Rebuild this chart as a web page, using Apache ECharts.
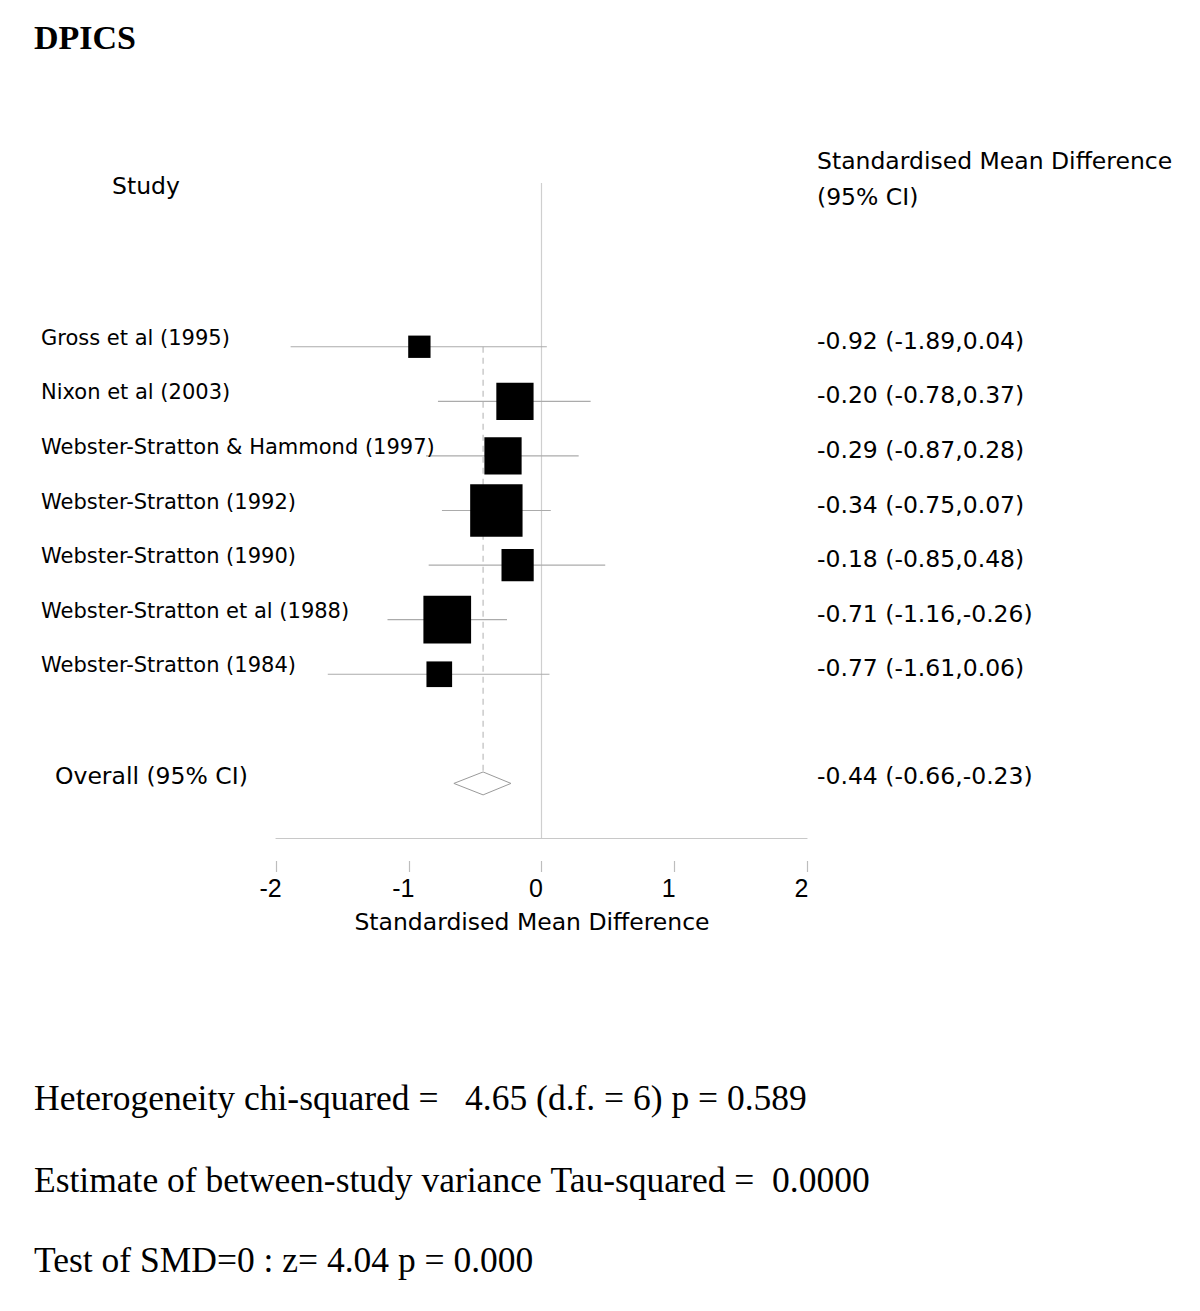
<!DOCTYPE html>
<html>
<head>
<meta charset="utf-8">
<script src="https://cdn.jsdelivr.net/npm/echarts@6/dist/echarts.min.js"></script>
<style>
  html, body { margin: 0; padding: 0; background: #fff; }
  #chart { width: 1200px; height: 1311px; }
</style>
</head>
<body>
<div id="chart"></div>
<script>
// ---- Data ----
const studies = [
  'Gross et al (1995)',
  'Nixon et al (2003)',
  'Webster-Stratton & Hammond (1997)',
  'Webster-Stratton (1992)',
  'Webster-Stratton (1990)',
  'Webster-Stratton et al (1988)',
  'Webster-Stratton (1984)'
];
const smd   = [-0.92, -0.20, -0.29, -0.34, -0.18, -0.71, -0.77];
const lower = [-1.89, -0.78, -0.87, -0.75, -0.85, -1.16, -1.61];
const upper = [ 0.04,  0.37,  0.28,  0.07,  0.48, -0.26,  0.06];
const weights = [5.0, 13.9, 13.9, 27.5, 10.4, 22.8, 6.6]; // % weight (box area)
const overallLabel = 'Overall (95% CI)';
const overallValues = [-0.44, -0.66, -0.23]; // estimate, lower, upper
const xTicks = [-2, -1, 0, 1, 2];
const titleText = 'DPICS';
const statsLines = [
  'Heterogeneity chi-squared =   4.65 (d.f. = 6) p = 0.589',
  'Estimate of between-study variance Tau-squared =  0.0000',
  'Test of SMD=0 : z= 4.04 p = 0.000'
];

// ---- Build ----
const SANS = '"DejaVu Sans", "Liberation Sans", Arial, sans-serif';
const TICKSANS = '"Liberation Sans", Arial, Helvetica, sans-serif';
const SERIF = '"Liberation Serif", "Times New Roman", serif';
const fmt = (e, l, u) => e.toFixed(2) + ' (' + l.toFixed(2) + ',' + u.toFixed(2) + ')';
const nbsp = s => s.replace(/ /g, '\u00a0');

const studyData = studies.map((s, i) => [i + 1, smd[i], lower[i], upper[i], weights[i]]);
const overallRow = studies.length + 2;

const chart = echarts.init(document.getElementById('chart'), null, { renderer: 'svg' });

const option = {
  backgroundColor: '#ffffff',
  animation: false,
  grid: { left: 276, top: 183, width: 531, height: 655, containLabel: false },
  xAxis: [
    {
      type: 'value', min: xTicks[0], max: xTicks[xTicks.length - 1], interval: 1,
      position: 'bottom',
      axisLine: { show: true, onZero: false, lineStyle: { color: '#c8c8c8', width: 1.2 } },
      axisTick: { show: false }, axisLabel: { show: false }, splitLine: { show: false }
    },
    {
      type: 'value', min: xTicks[0], max: xTicks[xTicks.length - 1], interval: 1,
      position: 'bottom', offset: 23,
      axisLine: { show: false, onZero: false },
      axisTick: { show: true, length: 11, lineStyle: { color: '#bdbdbd', width: 1.2 } },
      axisLabel: {
        show: true, margin: 14, fontSize: 25, color: '#000', fontFamily: TICKSANS,
        padding: [0, 11, 0, 0],
        formatter: v => String(v)
      },
      splitLine: { show: false },
      name: 'Standardised Mean Difference',
      nameLocation: 'middle', nameGap: 49,
      nameTextStyle: { fontSize: 23.5, color: '#000', fontFamily: SANS, padding: [0, 19, 0, 0] }
    }
  ],
  yAxis: {
    type: 'value', min: -2, max: 10, inverse: true, show: false
  },
  graphic: [
    { type: 'text', left: 34, top: 20, style: { text: titleText, font: 'bold 34px ' + SERIF, fill: '#000' } },
    { type: 'text', left: 112, top: 174, style: { text: 'Study', font: '23.5px ' + SANS, fill: '#000' } },
    { type: 'text', left: 817, top: 149, style: { text: 'Standardised Mean Difference', font: '23.5px ' + SANS, fill: '#000' } },
    { type: 'text', left: 817, top: 185, style: { text: '(95% CI)', font: '23.5px ' + SANS, fill: '#000' } }
  ].concat(statsLines.map((t, i) => ({
    type: 'text', left: 34, top: [1080, 1162, 1242][i],
    style: { text: nbsp(t), font: '35.5px ' + SERIF, fill: '#000' }
  }))),
  series: [
    {
      // null line at 0
      type: 'line', xAxisIndex: 0, silent: true, symbol: 'none',
      data: [[0, -2], [0, 10]],
      lineStyle: { color: '#cfcfcf', width: 1.2 }, z: 1
    },
    {
      // dashed overall-estimate line
      type: 'line', xAxisIndex: 0, silent: true, symbol: 'none',
      data: [[overallValues[0], 1], [overallValues[0], overallRow - 0.21]],
      lineStyle: { color: '#bdbdbd', width: 1.2, type: [6, 5] }, z: 1
    },
    {
      type: 'custom', xAxisIndex: 0, silent: true, z: 3,
      data: studyData,
      renderItem: function (params, api) {
        const row = api.value(0);
        const est = api.value(1), lo = api.value(2), hi = api.value(3), w = api.value(4);
        const name = studies[params.dataIndex];
        const c = api.coord([est, row]);
        const pl = api.coord([lo, row]);
        const ph = api.coord([hi, row]);
        const rowH = api.size([0, 1])[1];
        const side = rowH * 0.183 * Math.sqrt(w);
        return {
          type: 'group',
          children: [
            { type: 'line', shape: { x1: pl[0], y1: c[1], x2: ph[0], y2: c[1] },
              style: { stroke: '#ababab', lineWidth: 1.2 } },
            { type: 'rect', shape: { x: c[0] - side / 2, y: c[1] - side / 2, width: side, height: side },
              style: { fill: '#000' } },
            { type: 'text', x: 41, y: c[1] - 9,
              style: { text: name, font: '21px ' + SANS, fill: '#000', verticalAlign: 'middle', align: 'left' } },
            { type: 'text', x: 817, y: c[1] - 6,
              style: { text: fmt(est, lo, hi), font: '23.5px ' + SANS, fill: '#000', verticalAlign: 'middle', align: 'left' } }
          ]
        };
      }
    },
    {
      type: 'custom', xAxisIndex: 0, silent: true, z: 3,
      data: [[overallRow, overallValues[0], overallValues[1], overallValues[2]]],
      renderItem: function (params, api) {
        const row = api.value(0);
        const est = api.value(1), lo = api.value(2), hi = api.value(3);
        const top = api.coord([est, row - 0.21]);
        const bot = api.coord([est, row + 0.21]);
        const l = api.coord([lo, row]);
        const r = api.coord([hi, row]);
        return {
          type: 'group',
          children: [
            { type: 'polygon', shape: { points: [[l[0], l[1]], [top[0], top[1]], [r[0], r[1]], [bot[0], bot[1]]] },
              style: { fill: 'none', stroke: '#9a9a9a', lineWidth: 1 } },
            { type: 'text', x: 55, y: l[1] - 7,
              style: { text: overallLabel, font: '23.5px ' + SANS, fill: '#000', verticalAlign: 'middle', align: 'left' } },
            { type: 'text', x: 817, y: l[1] - 7,
              style: { text: fmt(est, lo, hi), font: '23.5px ' + SANS, fill: '#000', verticalAlign: 'middle', align: 'left' } }
          ]
        };
      }
    }
  ]
};
chart.setOption(option);
</script>
</body>
</html>
